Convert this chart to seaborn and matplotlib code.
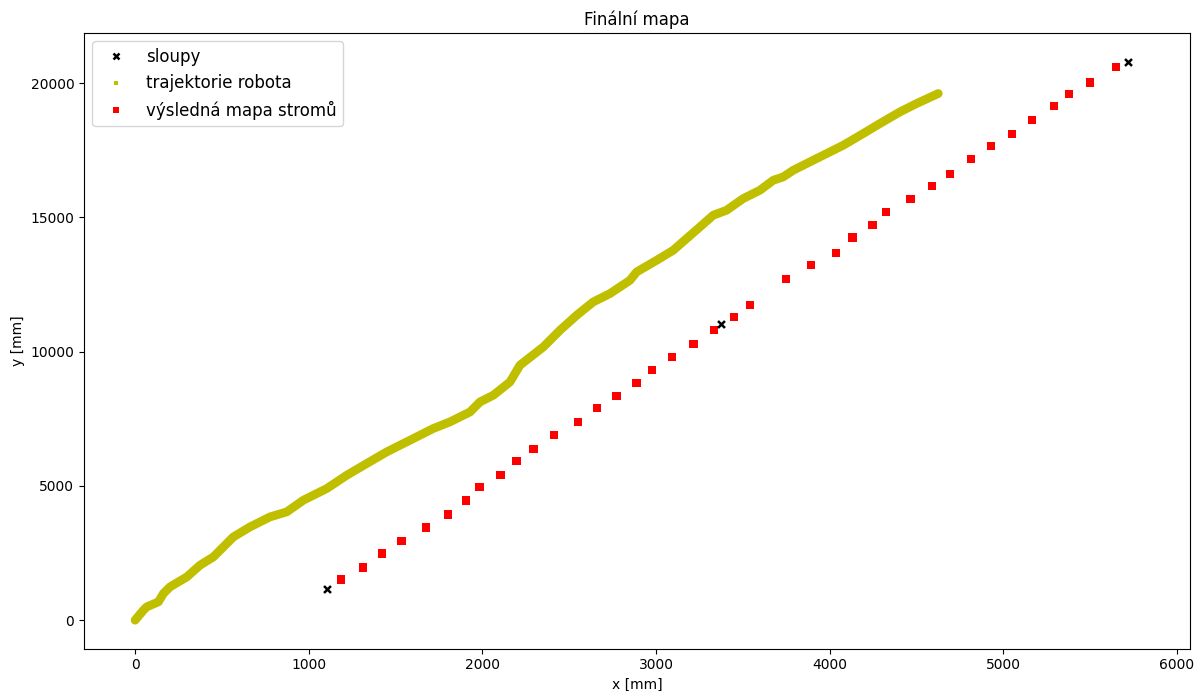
import matplotlib
matplotlib.use("Agg")
import matplotlib.pyplot as plt
import seaborn as sns
import pandas as pd
from matplotlib.lines import Line2D

# robot trajectory
traj_x = [0, 48, 67, 134, 163, 201, 298, 374, 451, 566, 662, 777, 873, 969,
          1104, 1219, 1334, 1449, 1583, 1717, 1813, 1929, 1986, 2063, 2159,
          2216, 2351, 2447, 2543, 2638, 2735, 2850, 2888, 3004, 3099, 3176,
          3253, 3329, 3406, 3502, 3598, 3675, 3732, 3790, 3905, 4078, 4193,
          4289, 4404, 4500, 4625]
traj_y = [0, 372, 495, 681, 994, 1240, 1612, 2048, 2357, 3101, 3474, 3846,
          4032, 4468, 4903, 5398, 5834, 6266, 6701, 7137, 7383, 7755, 8127,
          8377, 8872, 9494, 10175, 10797, 11355, 11850, 12163, 12658, 12967,
          13403, 13775, 14211, 14645, 15078, 15264, 15700, 16009, 16381,
          16504, 16753, 17126, 17684, 18120, 18492, 18924, 19237, 19609]

# final tree map
tree_x = [1184, 1311, 1420, 1535, 1674, 1800, 1904, 1984, 2105, 2197, 2295,
          2411, 2549, 2658, 2773, 2888, 2976, 3092, 3216, 3332, 3448, 3539,
          3748, 3892, 4036, 4132, 4247, 4324, 4466, 4588, 4692, 4813, 4928,
          5049, 5164, 5291, 5377, 5498, 5648]
tree_y = [1515, 1962, 2483, 2953, 3451, 3935, 4456, 4963, 5410, 5920, 6385,
          6899, 7368, 7911, 8351, 8835, 9319, 9803, 10287, 10808, 11292,
          11739, 12707, 13228, 13663, 14248, 14717, 15190, 15674, 16169,
          16605, 17163, 17647, 18094, 18615, 19136, 19583, 20019, 20588]

# poles
pole_x = [1107, 3372, 5718]
pole_y = [1165, 11020, 20800]

labels = ["sloupy", "trajektorie robota", "výsledná mapa stromů"]

fig = plt.figure(figsize=(12.04, 6.91), dpi=100)
ax = fig.add_axes([0.0698, 0.0615, 0.9185, 0.8907])

traj = pd.DataFrame({"x": traj_x, "y": traj_y})
trees = pd.DataFrame({"x": tree_x, "y": tree_y})
poles = pd.DataFrame({"x": pole_x, "y": pole_y})

sns.lineplot(data=traj, x="x", y="y", sort=False, ax=ax, color="y",
             linewidth=6.3, solid_capstyle="round", solid_joinstyle="round",
             zorder=2)
sns.scatterplot(data=trees, x="x", y="y", ax=ax, marker="s", s=36,
                color="red", edgecolor="none", linewidth=0, zorder=3)
sns.scatterplot(data=poles, x="x", y="y", ax=ax, marker="x", s=25,
                color="black", linewidth=1.8, zorder=4)

ax.set_xlim(-294, 6074)
ax.set_ylim(-1054, 21862)
ax.set_xlabel("x [mm]")
ax.set_ylabel("y [mm]")
ax.set_title("Finální mapa")

handles = [
    Line2D([], [], linestyle="none", marker="x", color="black",
           markersize=5, markeredgewidth=1.8),
    Line2D([], [], linestyle="none", marker="s", color="y",
           markersize=3.5, markeredgewidth=0),
    Line2D([], [], linestyle="none", marker="s", color="red",
           markersize=5, markeredgewidth=0),
]
ax.legend(handles, labels, loc="upper left", fontsize=12)

fig.savefig("out.png", dpi=100)
